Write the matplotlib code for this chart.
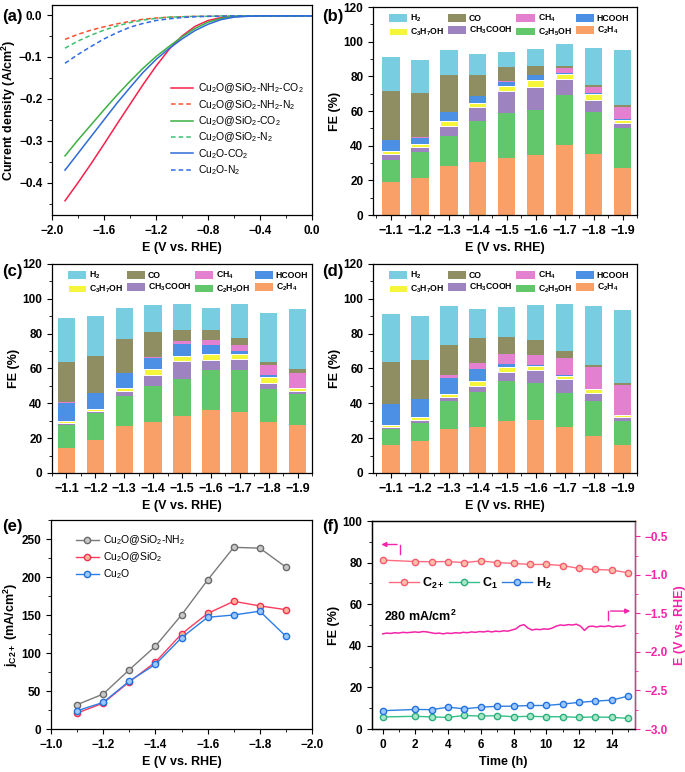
import numpy as np
import matplotlib
matplotlib.use("Agg")
import matplotlib.pyplot as plt
from matplotlib.ticker import MultipleLocator

plt.rcParams["font.family"] = ["Liberation Sans", "DejaVu Sans"]
plt.rcParams["font.weight"] = "bold"
plt.rcParams["axes.labelweight"] = "bold"
plt.rcParams["mathtext.default"] = "regular"
plt.rcParams["font.size"] = 8.5
plt.rcParams["axes.linewidth"] = 0.9
plt.rcParams["xtick.major.size"] = 3.5
plt.rcParams["ytick.major.size"] = 3.5
plt.rcParams["xtick.minor.size"] = 2
plt.rcParams["ytick.minor.size"] = 2

# ---- (a) LSV curves ----
lsv_E = [-1.9, -1.8, -1.7, -1.6, -1.5, -1.4, -1.3, -1.2, -1.1, -1.0,
         -0.9, -0.8, -0.7, -0.6, -0.5, -0.4, -0.3, -0.2, -0.1, 0.0]
j_nh2_co2 = [-0.443, -0.400, -0.355, -0.308, -0.260, -0.213, -0.166, -0.122, -0.082, -0.050,
             -0.027, -0.013, -0.006, -0.003, -0.002, -0.002, -0.002, -0.002, -0.002, -0.002]
j_nh2_n2 = [-0.058, -0.046, -0.036, -0.028, -0.021, -0.015, -0.010, -0.007, -0.005, -0.004,
            -0.003, -0.003, -0.002, -0.002, -0.002, -0.002, -0.002, -0.002, -0.002, -0.002]
j_sio2_co2 = [-0.336, -0.298, -0.262, -0.226, -0.191, -0.158, -0.127, -0.099, -0.075, -0.052,
              -0.032, -0.017, -0.008, -0.004, -0.002, -0.002, -0.002, -0.002, -0.002, -0.002]
j_sio2_n2 = [-0.079, -0.062, -0.048, -0.036, -0.026, -0.018, -0.012, -0.008, -0.005, -0.004,
             -0.003, -0.003, -0.002, -0.002, -0.002, -0.002, -0.002, -0.002, -0.002, -0.002]
j_cu2o_co2 = [-0.370, -0.330, -0.290, -0.250, -0.210, -0.173, -0.137, -0.106, -0.080, -0.057,
              -0.037, -0.022, -0.011, -0.005, -0.003, -0.002, -0.002, -0.002, -0.002, -0.002]
j_cu2o_n2 = [-0.115, -0.094, -0.075, -0.057, -0.042, -0.029, -0.020, -0.013, -0.009, -0.006,
             -0.004, -0.003, -0.003, -0.002, -0.002, -0.002, -0.002, -0.002, -0.002, -0.002]

# ---- (b)-(d) Faradaic efficiencies ----
potentials = ["\u22121.1", "\u22121.2", "\u22121.3", "\u22121.4", "\u22121.5",
              "\u22121.6", "\u22121.7", "\u22121.8", "\u22121.9"]
stack_names = ["C$_2$H$_4$", "C$_2$H$_5$OH", "CH$_3$COOH", "C$_3$H$_7$OH",
               "HCOOH", "CH$_4$", "CO", "H$_2$"]
stack_colors = ["#f9a068", "#62c66a", "#9d84c0", "#f5f53a",
                "#4c90e6", "#e380cf", "#8e8e62", "#78cee0"]

fe_b_c2h4 = [19.2, 21.5, 28.2, 30.3, 33.0, 34.9, 40.2, 35.2, 27.2]
fe_b_c2h5oh = [12.8, 15.1, 17.6, 23.7, 25.8, 25.8, 28.8, 24.2, 23.0]
fe_b_ch3cooh = [3.1, 2.5, 5.5, 8.1, 12.5, 13.4, 9.5, 7.1, 3.1]
fe_b_c3h7oh = [1.7, 1.7, 2.7, 2.7, 3.2, 3.9, 2.7, 3.2, 1.7]
fe_b_hcooh = [6.5, 3.8, 5.2, 3.6, 2.5, 2.5, 0.5, 0.4, 0.3]
fe_b_ch4 = [0.2, 0.2, 0.2, 0.2, 0.3, 0.3, 3.0, 4.0, 7.0]
fe_b_co = [27.8, 25.7, 21.4, 12.1, 7.8, 5.4, 1.5, 1.0, 1.3]
fe_b_h2 = [19.9, 19.2, 14.2, 12.0, 9.2, 9.6, 12.3, 21.1, 31.4]

fe_c_c2h4 = [14.4, 19.0, 27.1, 29.0, 33.0, 36.3, 35.1, 29.4, 27.4]
fe_c_c2h5oh = [13.0, 15.4, 17.0, 20.7, 20.7, 22.8, 24.2, 18.6, 17.7]
fe_c_ch3cooh = [1.4, 1.1, 2.9, 6.5, 10.6, 5.8, 6.3, 3.6, 1.9]
fe_c_c3h7oh = [1.1, 1.4, 1.9, 3.3, 2.9, 3.4, 2.7, 3.3, 1.6]
fe_c_hcooh = [10.4, 9.0, 8.5, 6.7, 6.7, 5.2, 1.7, 1.5, 0.3]
fe_c_ch4 = [0.2, 0.2, 0.2, 0.3, 1.7, 2.9, 3.7, 5.8, 8.5]
fe_c_co = [23.0, 21.1, 19.2, 14.4, 6.5, 5.7, 3.8, 1.7, 2.1]
fe_c_h2 = [25.4, 22.8, 18.2, 15.8, 14.8, 12.5, 19.8, 28.2, 34.7]

fe_d_c2h4 = [15.9, 18.4, 25.3, 26.5, 29.8, 30.7, 26.3, 21.3, 16.1]
fe_d_c2h5oh = [9.2, 10.4, 16.0, 20.1, 23.0, 21.1, 19.4, 20.0, 13.8]
fe_d_ch3cooh = [1.4, 1.7, 2.5, 3.3, 5.4, 7.1, 8.3, 4.8, 2.2]
fe_d_c3h7oh = [1.1, 1.4, 1.3, 2.7, 2.6, 2.7, 1.9, 2.1, 1.1]
fe_d_hcooh = [11.9, 10.5, 9.6, 6.9, 1.6, 0.3, 0.2, 0.2, 0.2]
fe_d_ch4 = [0.2, 0.2, 1.7, 3.6, 5.9, 5.8, 10.1, 12.5, 17.3]
fe_d_co = [23.8, 22.5, 17.3, 14.6, 10.0, 8.4, 3.9, 0.9, 0.7]
fe_d_h2 = [27.9, 24.9, 22.1, 16.2, 17.1, 20.4, 27.2, 33.8, 42.1]

# ---- (e) partial current density of C2+ ----
e_E = [-1.1, -1.2, -1.3, -1.4, -1.5, -1.6, -1.7, -1.8, -1.9]
jc2_nh2 = [32, 46, 78, 109, 150, 196, 239, 238, 213]
jc2_sio2 = [21, 34, 62, 88, 125, 152, 168, 162, 157]
jc2_cu2o = [24, 35, 63, 85, 120, 147, 150, 155, 122]

# ---- (f) stability ----
stab_t = [0, 2, 3, 4, 5, 6, 7, 8, 9, 10, 11, 12, 13, 14, 15]
stab_c2 = [81.2, 80.5, 80.4, 80.5, 80.0, 80.8, 80.0, 79.6, 79.1, 79.1, 78.6, 77.2, 76.7, 76.4, 75.1]
stab_c1 = [5.8, 6.1, 5.8, 5.6, 6.5, 6.2, 6.4, 5.9, 6.1, 5.9, 5.9, 5.6, 5.8, 5.6, 5.1]
stab_h2 = [8.8, 9.4, 9.3, 10.5, 9.7, 10.5, 10.9, 11.0, 11.3, 11.3, 12.0, 12.8, 13.4, 13.9, 15.8]
pot_E = [-1.765, -1.755, -1.760, -1.750, -1.755, -1.745, -1.750, -1.745, -1.740,
         -1.745, -1.735, -1.740, -1.750, -1.760, -1.755, -1.765, -1.755, -1.760,
         -1.750, -1.755, -1.745, -1.750, -1.740, -1.745, -1.735, -1.740, -1.730,
         -1.740, -1.730, -1.735, -1.725, -1.730, -1.715, -1.700, -1.660, -1.645,
         -1.690, -1.715, -1.705, -1.710, -1.700, -1.705, -1.690, -1.665, -1.650,
         -1.655, -1.645, -1.650, -1.640, -1.665, -1.720, -1.670, -1.665, -1.675,
         -1.665, -1.670, -1.660, -1.675, -1.665, -1.670, -1.655]
pot_t = np.linspace(0, 14.8, len(pot_E))

W, H = 685, 772
fig = plt.figure(figsize=(W / 100, H / 100), dpi=100)


def add_ax(l, t, r, b):
    return fig.add_axes([l / W, 1 - b / H, (r - l) / W, (b - t) / H])


def panel_label(x, y, s):
    fig.text(x / W, 1 - y / H, s, fontsize=12, fontweight="bold", va="center")


# ------------------------------
# (a) LSV
# ------------------------------
ax_a = add_ax(52, 5, 312, 215)
ax_a.plot(lsv_E, j_nh2_co2, color="#f8204a", lw=1.1, label="Cu$_2$O@SiO$_2$-NH$_2$-CO$_2$")
ax_a.plot(lsv_E, j_nh2_n2, color="#ff5030", lw=1.1, ls=(0, (3, 2)), label="Cu$_2$O@SiO$_2$-NH$_2$-N$_2$")
ax_a.plot(lsv_E, j_sio2_co2, color="#3cb043", lw=1.1, label="Cu$_2$O@SiO$_2$-CO$_2$")
ax_a.plot(lsv_E, j_sio2_n2, color="#3cc070", lw=1.1, ls=(0, (3, 2)), label="Cu$_2$O@SiO$_2$-N$_2$")
ax_a.plot(lsv_E, j_cu2o_co2, color="#2e6bd8", lw=1.1, label="Cu$_2$O-CO$_2$")
ax_a.plot(lsv_E, j_cu2o_n2, color="#2e6be6", lw=1.1, ls=(0, (3, 2)), label="Cu$_2$O-N$_2$")
ax_a.legend(loc="upper left", bbox_to_anchor=(0.42, 0.68), frameon=False,
            prop={"weight": "normal", "size": 7.5}, handlelength=2.2,
            labelspacing=0.25, handletextpad=0.4)
ax_a.set_xlim(-2.0, 0.0)
ax_a.set_ylim(-0.477, 0.024)
ax_a.xaxis.set_major_locator(MultipleLocator(0.4))
ax_a.xaxis.set_minor_locator(MultipleLocator(0.2))
ax_a.yaxis.set_major_locator(MultipleLocator(0.1))
ax_a.yaxis.set_minor_locator(MultipleLocator(0.05))
ax_a.set_xlabel("E (V vs. RHE)", fontsize=9)
ax_a.set_ylabel("Current density (A/cm$^2$)", fontsize=9, labelpad=1)
panel_label(2, 16, "(a)")


# ------------------------------
# (b)-(d) FE bars
# ------------------------------
def draw_fe(ax, layers, xlim):
    x = np.arange(len(potentials))
    bottom = np.zeros(len(x))
    handles = []
    for vals, color, name in zip(layers, stack_colors, stack_names):
        edge = "white" if name == "C$_3$H$_7$OH" else "none"
        h = ax.bar(x, vals, 0.6, bottom=bottom, color=color, edgecolor=edge,
                   linewidth=0.7, label=name)
        handles.append(h)
        bottom += np.array(vals)
    order = [7, 3, 6, 2, 5, 1, 4, 0]
    ax.legend([handles[i] for i in order], [stack_names[i] for i in order],
              ncol=4, loc="upper left", bbox_to_anchor=(0.03, 1.01), frameon=False,
              prop={"weight": "bold", "size": 6.2}, handlelength=2.1,
              handleheight=1.0, columnspacing=0.45, handletextpad=0.35,
              labelspacing=0.25)
    ax.set_xticks(x)
    ax.set_xticklabels(potentials, fontsize=9)
    ax.set_xlim(*xlim)
    ax.xaxis.set_minor_locator(MultipleLocator(0.5))
    ax.set_ylim(0, 120)
    ax.yaxis.set_major_locator(MultipleLocator(20))
    ax.yaxis.set_minor_locator(MultipleLocator(10))
    ax.set_xlabel("E (V vs. RHE)", fontsize=9)
    ax.set_ylabel("FE (%)", fontsize=9, labelpad=2)


ax_b = add_ax(373, 7, 637, 215)
draw_fe(ax_b, [fe_b_c2h4, fe_b_c2h5oh, fe_b_ch3cooh, fe_b_c3h7oh,
               fe_b_hcooh, fe_b_ch4, fe_b_co, fe_b_h2], (-0.62, 8.5))
panel_label(322, 16, "(b)")

ax_c = add_ax(52, 264, 312, 473)
draw_fe(ax_c, [fe_c_c2h4, fe_c_c2h5oh, fe_c_ch3cooh, fe_c_c3h7oh,
               fe_c_hcooh, fe_c_ch4, fe_c_co, fe_c_h2], (-0.5, 8.5))
panel_label(2, 272, "(c)")

ax_d = add_ax(373, 264, 637, 473)
draw_fe(ax_d, [fe_d_c2h4, fe_d_c2h5oh, fe_d_ch3cooh, fe_d_c3h7oh,
               fe_d_hcooh, fe_d_ch4, fe_d_co, fe_d_h2], (-0.62, 8.5))
panel_label(322, 272, "(d)")

# ------------------------------
# (e) j C2+
# ------------------------------
ax_e = add_ax(51, 520, 312, 729)
ax_e.plot(e_E, jc2_nh2, color="#7a7a7a", lw=1.0, marker="o", ms=4.5,
          mfc="#c8c8c8", mec="#6a6a6a", label="Cu$_2$O@SiO$_2$-NH$_2$")
ax_e.plot(e_E, jc2_sio2, color="#ff3b5c", lw=1.0, marker="o", ms=4.5,
          mfc="#ffb49a", mec="#f03050", label="Cu$_2$O@SiO$_2$")
ax_e.plot(e_E, jc2_cu2o, color="#2b7de9", lw=1.0, marker="o", ms=4.5,
          mfc="#9cc8ff", mec="#2070e0", label="Cu$_2$O")
ax_e.legend(loc="upper left", bbox_to_anchor=(0.06, 0.98), frameon=False,
            prop={"weight": "normal", "size": 7.5}, handlelength=2.2,
            labelspacing=0.3, handletextpad=0.4)
ax_e.set_xlim(-1.0, -2.0)
ax_e.set_ylim(0, 275)
ax_e.xaxis.set_major_locator(MultipleLocator(0.2))
ax_e.xaxis.set_minor_locator(MultipleLocator(0.1))
ax_e.yaxis.set_major_locator(MultipleLocator(50))
ax_e.yaxis.set_minor_locator(MultipleLocator(25))
ax_e.set_xlabel("E (V vs. RHE)", fontsize=9)
ax_e.set_ylabel("j$_{C2+}$ (mA/cm$^2$)", fontsize=9, labelpad=1)
panel_label(2, 527, "(e)")

# ------------------------------
# (f) stability
# ------------------------------
mag = "#f524a8"
ax_f = add_ax(372, 521, 635, 729)
ax_f2 = ax_f.twinx()
ax_f2.plot(pot_t, pot_E, color=mag, lw=1.1)
ax_f.plot(stab_t, stab_c2, color="#ff6b7f", lw=1.0, marker="o", ms=4.5,
          mfc="#ffc0a8", mec="#f55a70", label="C$_{2+}$")
ax_f.plot(stab_t, stab_c1, color="#33c08a", lw=1.0, marker="o", ms=4.5,
          mfc="#a8e8c8", mec="#2aae7a", label="C$_1$")
ax_f.plot(stab_t, stab_h2, color="#2f7fe0", lw=1.0, marker="o", ms=4.5,
          mfc="#9cc8ff", mec="#2070e0", label="H$_2$")
ax_f.legend(loc="center left", bbox_to_anchor=(0.02, 0.70), frameon=False, ncol=3,
            prop={"weight": "bold", "size": 9}, handlelength=2.4,
            columnspacing=0.3, handletextpad=0.3)
ax_f.text(0.1, 52, "280 mA/cm$^2$", fontsize=9, fontweight="bold")
# arrows pointing to the axes
ax_f.plot([1.04, 1.04], [84.3, 88.7], color=mag, lw=1.0)
ax_f.annotate("", xy=(-0.25, 88.7), xytext=(1.05, 88.7),
              arrowprops=dict(arrowstyle="-|>", color=mag, lw=1.0, mutation_scale=7))
ax_f.plot([13.77, 13.77], [52.4, 56.7], color=mag, lw=1.0)
ax_f.annotate("", xy=(15.3, 56.7), xytext=(13.76, 56.7),
              arrowprops=dict(arrowstyle="-|>", color=mag, lw=1.0, mutation_scale=7))
ax_f.set_xlim(-0.65, 15.42)
ax_f.set_ylim(0, 100)
ax_f.xaxis.set_major_locator(MultipleLocator(2))
ax_f.xaxis.set_minor_locator(MultipleLocator(1))
ax_f.yaxis.set_major_locator(MultipleLocator(20))
ax_f.yaxis.set_minor_locator(MultipleLocator(10))
ax_f.set_xlabel("Time (h)", fontsize=9)
ax_f.set_ylabel("FE (%)", fontsize=9, labelpad=2)
ax_f2.set_ylim(-3.0, -0.3)
ax_f2.yaxis.set_major_locator(MultipleLocator(0.5))
ax_f2.yaxis.set_minor_locator(MultipleLocator(0.25))
ax_f2.spines["right"].set_color(mag)
ax_f2.tick_params(axis="y", which="both", colors=mag)
ax_f2.set_ylabel("E (V vs. RHE)", fontsize=9, color=mag)
panel_label(322, 527, "(f)")

fig.savefig("out.png", dpi=100)
